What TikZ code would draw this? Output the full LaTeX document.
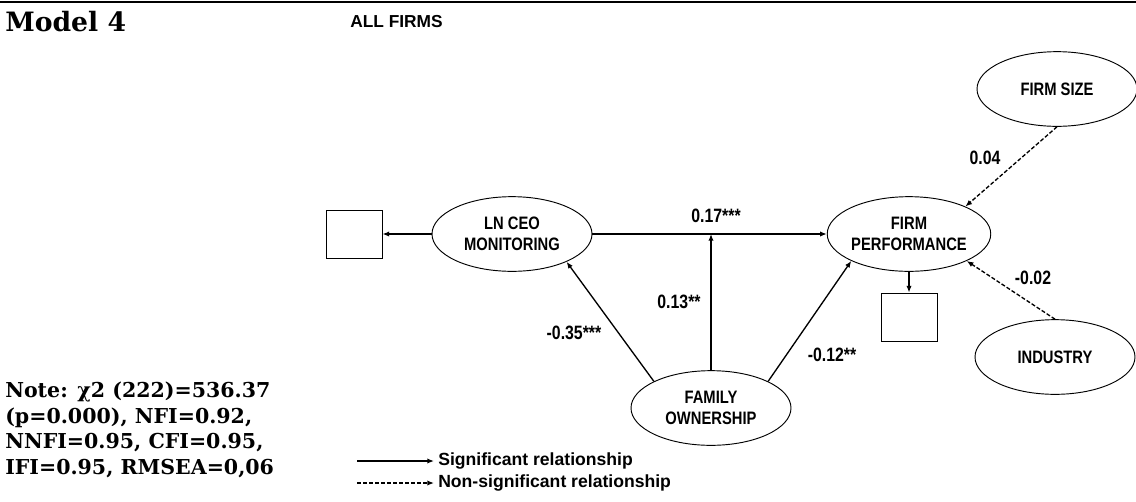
\documentclass[tikz,border=0pt]{standalone}
\usepackage{fontspec}
\setmainfont{DejaVu Serif}
\newfontfamily\diagfont[FakeStretch=0.82]{Liberation Sans}
\newfontfamily\plainsans{Liberation Sans}
\usepackage{tikz}
\usetikzlibrary{
	arrows.meta,									% arrow tips
	shapes.geometric,								% ellipse nodes
}

\begin{document}
\begin{tikzpicture}[x=0.75pt, y=-0.75pt,
		latent/.style={ellipse, draw, line width=0.7pt, minimum width=120pt, minimum height=56pt, inner sep=0pt, align=center, font=\diagfont\bfseries\fontsize{13.5}{16}\selectfont},
		indicator/.style={rectangle, draw, line width=0.7pt, minimum width=42pt, minimum height=36pt},
		coef/.style={inner sep=0pt, font=\diagfont\bfseries\fontsize{14.5}{16}\selectfont},
		legend/.style={anchor=west, inner sep=3pt, font=\plainsans\bfseries\fontsize{13.2}{15}\selectfont},
		sig/.style={-{Latex[length=5pt,width=4pt]}, line width=1pt},
		nonsig/.style={sig, dash pattern=on 3pt off 1.5pt},
	]
	\useasboundingbox (0,0) rectangle (1136,501);
	\draw[line width=2.2pt] (0,2) -- (1136,2);
	
	% headings
	\node[anchor=west, inner sep=0pt, font=\bfseries\fontsize{20}{24}\selectfont] (title) at (5,22) {Model 4};
	\node[anchor=west, inner sep=0pt, font=\plainsans\bfseries\fontsize{13}{15}\selectfont] (sample) at (350,22) {ALL FIRMS};
	
	% constructs
	\node[latent] (lnceo) at (512,234) {LN CEO\\MONITORING};
	\node[latent] (fp) at (909,234) {FIRM\\PERFORMANCE};
	\node[latent] (fo) at (711,408) {FAMILY\\OWNERSHIP};
	\node[latent] (fsize) at (1057,89) {FIRM SIZE};
	\node[latent] (ind) at (1055,357) {INDUSTRY};
	\node[indicator] (boxa) at (354,234) {};
	\node[indicator] (boxb) at (909,317) {};
	
	% paths
	\draw[sig] (lnceo) -- (boxa);
	\draw[sig] (fp) -- (boxb);
	\draw[sig] (lnceo) -- (fp);
	\draw[sig] (fo.north) -- (fo.north |- fp.center);
	\draw[sig] (fo.155) -- (lnceo.-27);
	\draw[sig] (fo.25) -- (fp.205);
	\draw[nonsig] (fsize.south) -- (fp.26);
	\draw[nonsig] (ind.north) -- (fp.-25);
	
	% coefficients
	\node[coef] (c17) at (716,216) {0.17***};
	\node[coef] (c13) at (679,302) {0.13**};
	\node[coef] (c35) at (574,333) {-0.35***};
	\node[coef] (c12) at (832,355) {-0.12**};
	\node[coef] (c04) at (985,158) {0.04};
	\node[coef] (c02) at (1033,278) {-0.02};
	
	% fit indices
	\node[anchor=west, align=left, inner sep=0pt, font=\bfseries\fontsize{15.4}{19.2}\selectfont] (note) at (5,430) {Note: χ2 (222)=536.37\\(p=0.000), NFI=0.92,\\NNFI=0.95, CFI=0.95,\\IFI=0.95, RMSEA=0,06};
	
	% legend
	\coordinate (sigstart) at (357,461);
	\coordinate (nsstart) at (357,483);
	\node[legend] (sigtext) at (434,461) {Significant relationship};
	\node[legend] (nstext) at (434,483) {Non-significant relationship};
	\draw[sig] (sigstart) -- (sigtext.west);
	\draw[nonsig] (nsstart) -- (nstext.west);
\end{tikzpicture}
\end{document}
